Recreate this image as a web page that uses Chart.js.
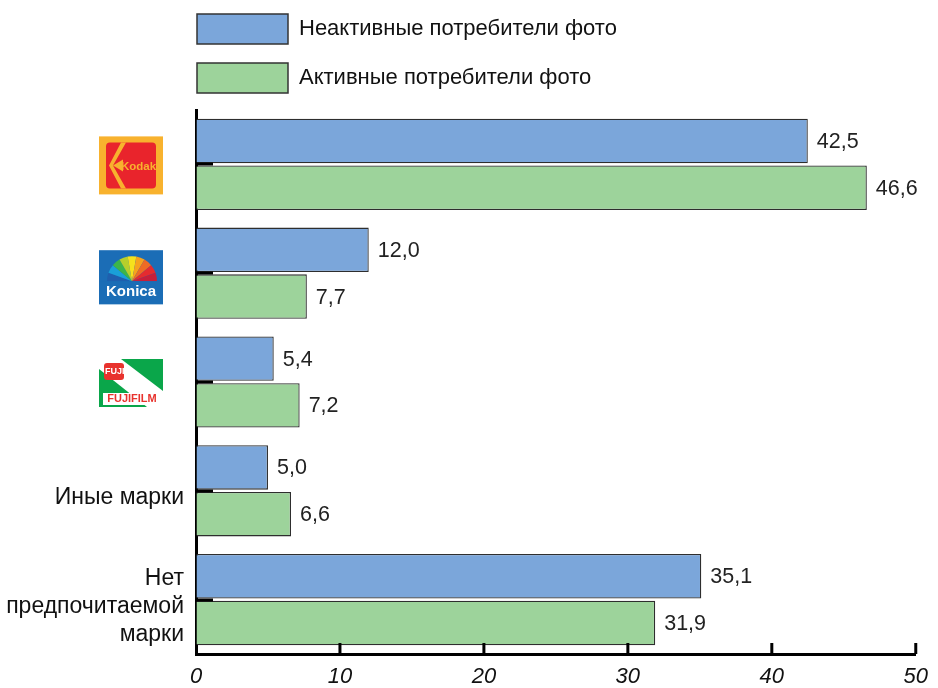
<!DOCTYPE html>
<html>
<head>
<meta charset="utf-8">
<script src="https://cdn.jsdelivr.net/npm/chart.js@4"></script>
<style>
  html, body { margin: 0; padding: 0; background: #fff; }
  #wrap { width: 938px; height: 688px; }
</style>
</head>
<body>
<div id="wrap"><canvas id="chart" width="938" height="688"></canvas></div>
<script>
const brands = ["Kodak", "Konica", "Fujifilm", "Иные марки", "Нет предпочитаемой марки"];
const tickLabels = ["", "", "", "Иные марки", ["Нет", "предпочитаемой", "марки"]];
const seriesNames = ["Неактивные потребители фото", "Активные потребители фото"];
const inactive = [42.5, 12.0, 5.4, 5.0, 35.1];
const active = [46.6, 7.7, 7.2, 6.6, 31.9];
const xTicks = [0, 10, 20, 30, 40, 50];

const blue = "#7ba6da";
const green = "#9dd39b";
const edge = "#2e2e2e";
const font = "'Liberation Sans', Arial, sans-serif";

function fmt(v) {
  return v.toFixed(1).replace(".", ",");
}

// legend drawn by hand, stacked vertically above the plot
const legendPlugin = {
  id: "stackLegend",
  afterDraw(chart) {
    const ctx = chart.ctx;
    const left = chart.chartArea.left + 1;
    chart.data.datasets.forEach((ds, i) => {
      const top = 14 + i * 49;
      ctx.save();
      ctx.fillStyle = ds.backgroundColor;
      ctx.fillRect(left, top, 91, 30);
      ctx.strokeStyle = "#333";
      ctx.lineWidth = 1.5;
      ctx.strokeRect(left, top, 91, 30);
      ctx.fillStyle = "#111";
      ctx.font = "22px " + font;
      ctx.textBaseline = "middle";
      ctx.fillText(ds.label, left + 102, top + 15);
      ctx.restore();
    });
  }
};

// value labels, inner ticks and brand logos
const extrasPlugin = {
  id: "extras",
  afterDatasetsDraw(chart) {
    const ctx = chart.ctx;
    const x = chart.scales.x;
    const y = chart.scales.y;
    const area = chart.chartArea;
    ctx.save();
    ctx.font = "21.5px " + font;
    ctx.fillStyle = "#222";
    ctx.textBaseline = "middle";
    chart.data.datasets.forEach((ds, di) => {
      chart.getDatasetMeta(di).data.forEach((bar, i) => {
        ctx.fillText(fmt(ds.data[i]), bar.x + 9, bar.y + 1);
      });
    });

    // small marks at category centres
    ctx.strokeStyle = "#000";
    ctx.lineWidth = 3;
    brands.forEach((b, i) => {
      const py = Math.round(y.getPixelForValue(i));
      ctx.beginPath();
      ctx.moveTo(area.left, py);
      ctx.lineTo(area.left + 17, py);
      ctx.stroke();
    });
    // upward ticks on x axis
    xTicks.slice(1).forEach(v => {
      const px = x.getPixelForValue(v);
      ctx.beginPath();
      ctx.moveTo(px, area.bottom);
      ctx.lineTo(px, area.bottom - 11);
      ctx.stroke();
    });
    ctx.restore();

    drawKodak(ctx, 99, y.getPixelForValue(0) - 28);
    drawKonica(ctx, 99, y.getPixelForValue(1) - 23);
    drawFuji(ctx, 99, y.getPixelForValue(2) - 23);
  }
};

function drawKodak(ctx, x0, y0) {
  ctx.save();
  ctx.fillStyle = "#f8b22e";
  ctx.fillRect(x0, y0, 64, 58);
  ctx.fillStyle = "#e9242c";
  ctx.beginPath();
  ctx.roundRect(x0 + 7, y0 + 6, 50, 46, 4);
  ctx.fill();
  ctx.fillStyle = "#f8b22e";
  // chevron of the K
  ctx.beginPath();
  ctx.moveTo(x0 + 22, y0 + 6);
  ctx.lineTo(x0 + 27, y0 + 6);
  ctx.lineTo(x0 + 14, y0 + 29);
  ctx.lineTo(x0 + 27, y0 + 52);
  ctx.lineTo(x0 + 22, y0 + 52);
  ctx.lineTo(x0 + 10, y0 + 29);
  ctx.closePath();
  ctx.fill();
  // thin rays from the vertex
  ctx.beginPath();
  ctx.moveTo(x0 + 14, y0 + 29);
  ctx.lineTo(x0 + 24, y0 + 23);
  ctx.lineTo(x0 + 24, y0 + 35);
  ctx.closePath();
  ctx.fill();
  ctx.font = "bold 11.5px " + font;
  ctx.textBaseline = "middle";
  ctx.fillText("Kodak", x0 + 22, y0 + 30);
  ctx.restore();
}

function drawKonica(ctx, x0, y0) {
  const fan = ["#1f5fae", "#1aa0d8", "#3cb54a", "#b7cf2b", "#f6e11c", "#f6a21d", "#ee6b24", "#e52b2f", "#c71f3a"];
  ctx.save();
  ctx.fillStyle = "#1b6db6";
  ctx.fillRect(x0, y0, 64, 54);
  const cx = x0 + 33, cy = y0 + 31, r = 25;
  fan.forEach((c, i) => {
    const a0 = Math.PI + (i / fan.length) * Math.PI;
    const a1 = Math.PI + ((i + 1) / fan.length) * Math.PI;
    ctx.fillStyle = c;
    ctx.beginPath();
    ctx.moveTo(cx, cy);
    ctx.arc(cx, cy, r, a0, a1);
    ctx.closePath();
    ctx.fill();
  });
  ctx.fillStyle = "#1b6db6";
  ctx.fillRect(x0, y0 + 31, 64, 23);
  ctx.fillStyle = "#fff";
  ctx.font = "bold 15px " + font;
  ctx.textAlign = "center";
  ctx.textBaseline = "middle";
  ctx.fillText("Konica", cx - 1, y0 + 42);
  ctx.restore();
}

function drawFuji(ctx, x0, y0) {
  ctx.save();
  ctx.fillStyle = "#fff";
  ctx.fillRect(x0, y0, 64, 48);
  ctx.fillStyle = "#0aa64a";
  ctx.beginPath();
  ctx.moveTo(x0 + 22, y0);
  ctx.lineTo(x0 + 64, y0);
  ctx.lineTo(x0 + 64, y0 + 32);
  ctx.closePath();
  ctx.fill();
  ctx.beginPath();
  ctx.moveTo(x0, y0 + 10);
  ctx.lineTo(x0 + 48, y0 + 48);
  ctx.lineTo(x0, y0 + 48);
  ctx.closePath();
  ctx.fill();
  ctx.fillStyle = "#fff";
  ctx.fillRect(x0 + 4, y0 + 34, 58, 12);
  ctx.fillStyle = "#e8322d";
  ctx.beginPath();
  ctx.roundRect(x0 + 5, y0 + 4, 20, 17, 3);
  ctx.fill();
  ctx.fillStyle = "#fff";
  ctx.font = "bold 9px " + font;
  ctx.textBaseline = "middle";
  ctx.fillText("FUJI", x0 + 6, y0 + 12.5);
  ctx.fillStyle = "#e8322d";
  ctx.font = "bold 11px " + font;
  ctx.textAlign = "center";
  ctx.fillText("FUJIFILM", x0 + 33, y0 + 40);
  ctx.restore();
}

new Chart(document.getElementById("chart"), {
  type: "bar",
  data: {
    labels: brands,
    datasets: [
      {
        label: seriesNames[0],
        data: inactive,
        backgroundColor: blue,
        borderColor: edge,
        borderWidth: 1.3,
        categoryPercentage: 0.86,
        barPercentage: 0.95
      },
      {
        label: seriesNames[1],
        data: active,
        backgroundColor: green,
        borderColor: edge,
        borderWidth: 1.3,
        categoryPercentage: 0.86,
        barPercentage: 0.95
      }
    ]
  },
  options: {
    indexAxis: "y",
    responsive: false,
    animation: false,
    layout: { padding: { top: 110, left: 4, right: 20, bottom: 0 } },
    plugins: {
      legend: { display: false },
      tooltip: { enabled: false }
    },
    scales: {
      x: {
        min: 0,
        max: 50,
        afterBuildTicks(scale) {
          scale.ticks = xTicks.map(v => ({ value: v }));
        },
        afterFit(scale) { scale.height = 34; },
        border: { color: "#000", width: 3 },
        grid: { drawOnChartArea: false, drawTicks: false },
        ticks: {
          padding: 10,
          color: "#111",
          font: { family: font, size: 22, style: "italic" }
        }
      },
      y: {
        afterFit(scale) { scale.width = 192; },
        border: { color: "#000", width: 3 },
        grid: { drawOnChartArea: false, drawTicks: false },
        ticks: {
          padding: 12,
          labelOffset: 7,
          color: "#111",
          font: { family: font, size: 23, lineHeight: 1.22 },
          callback: (v, i) => tickLabels[i]
        }
      }
    }
  },
  plugins: [legendPlugin, extrasPlugin]
});
</script>
</body>
</html>
